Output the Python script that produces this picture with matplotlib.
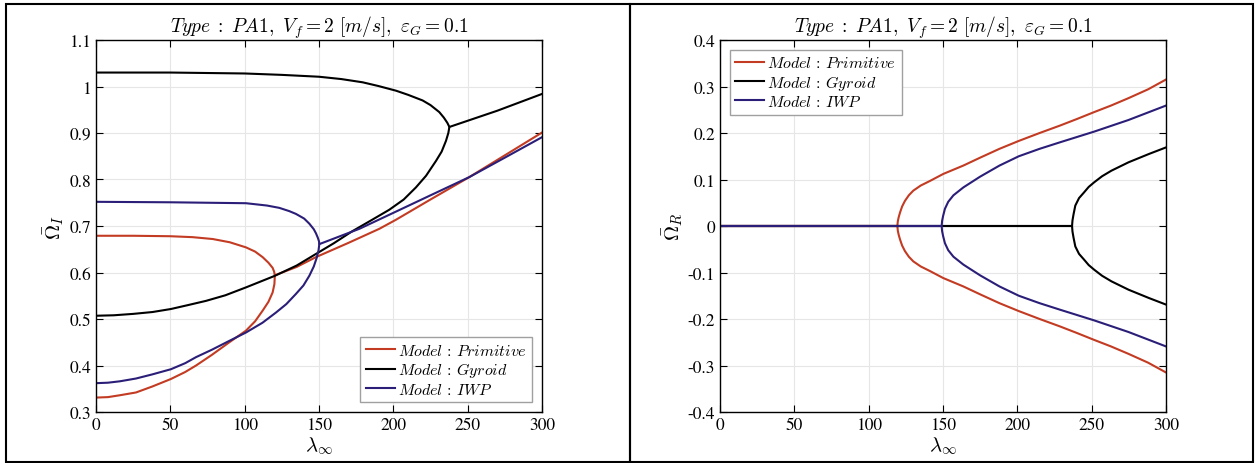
import numpy as np
import matplotlib
matplotlib.use("Agg")
import matplotlib.pyplot as plt
from matplotlib.patches import Rectangle

plt.rcParams['font.family'] = ['STIXGeneral', 'DejaVu Serif']
plt.rcParams['mathtext.fontset'] = 'cm'

# ---- left panel: imaginary part, branches (lambda, Omega_I)
prim_up_x = [0, 25, 50, 65, 78.5, 90, 100.9, 107, 112.1, 116, 118.8, 119.8, 120.3]
prim_up_y = [0.679, 0.679, 0.678, 0.676, 0.672, 0.665, 0.654, 0.645, 0.633, 0.621, 0.610, 0.602, 0.594]
prim_lo_x = [0, 8, 16, 26.9, 38, 50.4, 60, 67.3, 78, 89.7, 100.9, 107, 112.1, 116, 118.8, 120, 120.3]
prim_lo_y = [0.331, 0.332, 0.336, 0.342, 0.355, 0.371, 0.386, 0.400, 0.423, 0.450, 0.475, 0.495,
             0.518, 0.537, 0.557, 0.575, 0.594]
prim_hi_x = [120.3, 135, 147.9, 170, 190.6, 201.8, 225, 251, 275, 300]
prim_hi_y = [0.594, 0.612, 0.633, 0.664, 0.694, 0.7135, 0.757, 0.805, 0.852, 0.901]

gyr_up_x = [0, 50, 100, 125, 150, 165, 179.4, 190, 201.8, 210, 219.7, 225, 230.9, 234, 236.3, 237.7]
gyr_up_y = [1.030, 1.030, 1.028, 1.025, 1.021, 1.016, 1.009, 1.001, 0.991, 0.982, 0.970, 0.960, 0.945,
            0.933, 0.922, 0.913]
gyr_lo_x = [0, 12, 25, 38, 50.4, 62, 74, 87, 100.9, 120.4, 135, 148, 160, 172, 185, 197.3, 207, 215.2,
            222, 228.7, 232.5, 235.4, 237, 237.7]
gyr_lo_y = [0.507, 0.508, 0.511, 0.515, 0.5215, 0.530, 0.539, 0.551, 0.568, 0.593, 0.615, 0.640, 0.663,
            0.688, 0.712, 0.735, 0.757, 0.783, 0.808, 0.840, 0.860, 0.883, 0.900, 0.913]
gyr_hi_x = [237.7, 270, 300]
gyr_hi_y = [0.913, 0.948, 0.984]

iwp_up_x = [0, 50, 100.9, 115, 123.3, 130, 134.5, 140, 143.5, 146.5, 148, 149.3, 150, 150.2]
iwp_up_y = [0.752, 0.751, 0.749, 0.744, 0.739, 0.732, 0.726, 0.716, 0.705, 0.693, 0.684, 0.674, 0.667, 0.661]
iwp_lo_x = [0, 8, 16, 26.9, 38, 50.4, 60, 67.3, 78, 89.7, 100.9, 112, 121.1, 128, 134.5, 139.5, 143.5,
            146.5, 148.5, 149.7, 150.2]
iwp_lo_y = [0.362, 0.363, 0.366, 0.372, 0.381, 0.392, 0.405, 0.418, 0.434, 0.453, 0.471, 0.492, 0.514,
            0.532, 0.554, 0.572, 0.593, 0.613, 0.632, 0.648, 0.661]
iwp_hi_x = [150.2, 177.2, 201.8, 225, 251, 275, 300]
iwp_hi_y = [0.661, 0.694, 0.731, 0.766, 0.805, 0.847, 0.891]

# ---- right panel: real part, positive branch (mirror branch is symmetric)
prim_re_x = [0, 119.3, 119.6, 120.2, 121.1, 122.5, 124.4, 127, 130, 135, 141.3, 150.2,
             163.7, 175, 188, 201, 215, 228.7, 240, 251.7, 263, 274.8, 288, 300]
prim_re_y = [0, 0, 0.010, 0.019, 0.029, 0.042, 0.054, 0.066, 0.076, 0.087, 0.097, 0.112,
             0.130, 0.147, 0.166, 0.183, 0.200, 0.216, 0.230, 0.245, 0.259, 0.275, 0.294, 0.315]
gyr_re_x = [0, 236.8, 237.1, 237.8, 239, 241.5, 244.8, 248, 251.7, 257, 263.3, 274.8, 288.6, 300]
gyr_re_y = [0, 0, 0.012, 0.025, 0.044, 0.060, 0.072, 0.084, 0.094, 0.107, 0.119, 0.137, 0.155, 0.169]
iwp_re_x = [0, 149.1, 149.4, 150.1, 151.3, 153.5, 157, 163.7, 174.9, 188, 201, 215, 228.7, 251.7, 274.8, 300]
iwp_re_y = [0, 0, 0.011, 0.022, 0.037, 0.052, 0.066, 0.083, 0.106, 0.130, 0.150, 0.166, 0.180, 0.203,
            0.228, 0.259]

models = ['Primitive', 'Gyroid', 'IWP']
colors = ['#c23b22', '#000000', '#2a1e78']

fig = plt.figure(figsize=(12.55, 4.64), dpi=100)
ax1 = fig.add_axes([96/1255, 51/464, 446/1255, 372/464])
ax2 = fig.add_axes([720/1255, 51/464, 446/1255, 372/464])

title = r'$Type\;:\;PA1,\ V_f = 2\ [m/s],\ \varepsilon_G = 0.1$'
lw = 1.5

left_sets = [
    (prim_up_x, prim_up_y, prim_lo_x, prim_lo_y, prim_hi_x, prim_hi_y),
    (gyr_up_x, gyr_up_y, gyr_lo_x, gyr_lo_y, gyr_hi_x, gyr_hi_y),
    (iwp_up_x, iwp_up_y, iwp_lo_x, iwp_lo_y, iwp_hi_x, iwp_hi_y),
]
for (ux, uy, lx, ly, hx, hy), name, c in zip(left_sets, models, colors):
    ax1.plot(ux + hx, uy + hy, color=c, lw=lw, label=r'$Model\,:\,' + name + '$')
    ax1.plot(lx, ly, color=c, lw=lw)

right_sets = [(prim_re_x, prim_re_y), (gyr_re_x, gyr_re_y), (iwp_re_x, iwp_re_y)]
for (rx, ry), name, c in zip(right_sets, models, colors):
    ry = np.array(ry)
    ax2.plot(rx, ry, color=c, lw=lw, label=r'$Model\,:\,' + name + '$')
    ax2.plot(rx, -ry, color=c, lw=lw)

for ax in (ax1, ax2):
    ax.set_xlim(0, 300)
    ax.set_xticks(np.arange(0, 301, 50))
    ax.grid(True, color='#e6e6e6', lw=0.8)
    ax.set_axisbelow(True)
    ax.tick_params(direction='in', top=True, right=True, labelsize=12.5, length=5)
    for s in ax.spines.values():
        s.set_linewidth(1.0)
    ax.set_xlabel(r'$\lambda_\infty$', fontsize=15, labelpad=1)
    ax.set_title(title, fontsize=14, pad=6)

leg_kw = dict(fontsize=11.5, fancybox=False, edgecolor='#a0a0a0', handlelength=1.8,
              handletextpad=0.2, borderpad=0.35, labelspacing=0.15, borderaxespad=0.6,
              framealpha=1)

ax1.set_ylim(0.3, 1.1)
ax1.set_yticks(np.arange(0.3, 1.101, 0.1))
ax1.set_yticklabels(['0.3', '0.4', '0.5', '0.6', '0.7', '0.8', '0.9', '1', '1.1'])
ax1.set_ylabel(r'$\bar{\Omega}_I$', fontsize=15, labelpad=2)
ax1.legend(loc='lower right', **leg_kw)

ax2.set_ylim(-0.4, 0.4)
ax2.set_yticks(np.arange(-0.4, 0.401, 0.1))
ax2.set_yticklabels(['-0.4', '-0.3', '-0.2', '-0.1', '0', '0.1', '0.2', '0.3', '0.4'])
ax2.set_ylabel(r'$\bar{\Omega}_R$', fontsize=15, labelpad=2)
ax2.legend(loc='upper left', **leg_kw)

# outer frames around each panel
fig.patches.append(Rectangle((6/1255, 1/464), 624/1255, 458/464, transform=fig.transFigure,
                             fill=False, edgecolor='black', lw=1.5))
fig.patches.append(Rectangle((630/1255, 1/464), 623/1255, 458/464, transform=fig.transFigure,
                             fill=False, edgecolor='black', lw=1.5))

fig.savefig('out.png', dpi=100)
